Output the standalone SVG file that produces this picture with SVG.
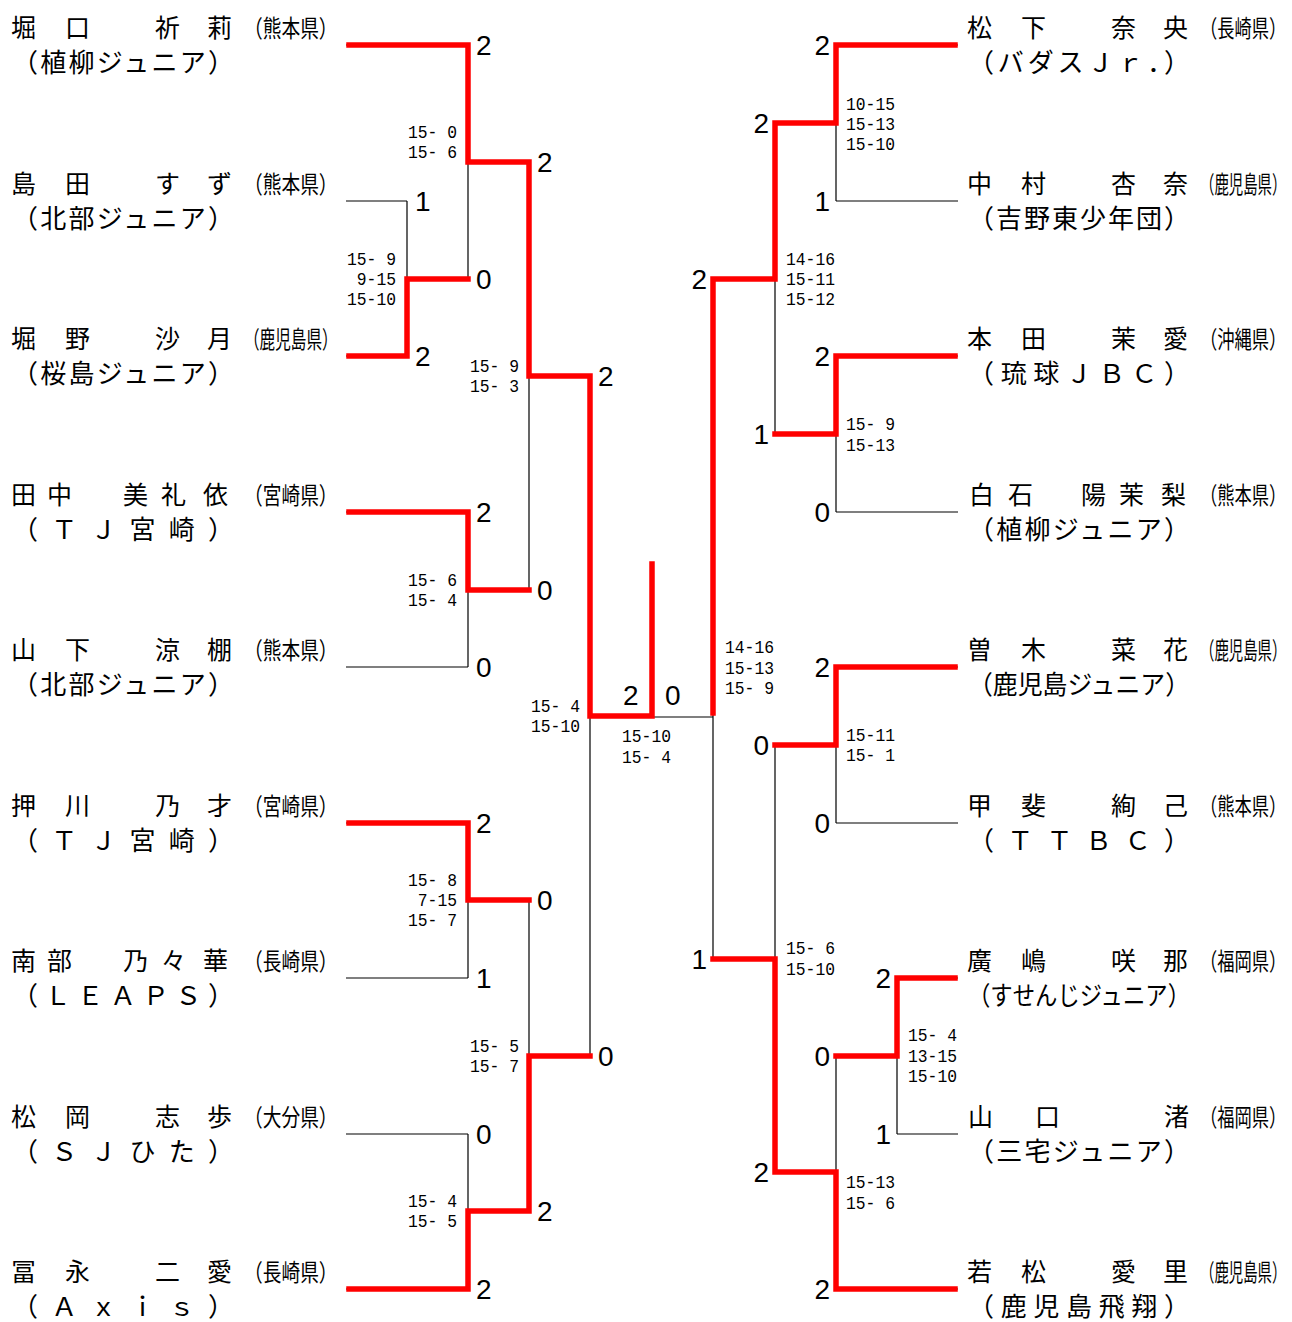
<svg xmlns="http://www.w3.org/2000/svg" width="1292" height="1322" viewBox="0 0 1292 1322">
<style>
.bk{fill:none;stroke:#000;stroke-width:1.2}
.rd{fill:none;stroke:#ff0000;stroke-width:5.5;stroke-linejoin:miter;stroke-linecap:square}
.nm{font-family:"Noto Sans CJK JP",sans-serif;font-size:25px;fill:#000}
.org{font-family:"Noto Sans CJK JP",sans-serif;font-size:26px;fill:#000}
.pf{font-family:"Noto Sans CJK JP",sans-serif;font-size:24px;fill:#000}
.d{font-family:"Liberation Sans",Arial,sans-serif;font-size:28px;fill:#000}
.de{font-family:"Liberation Sans",Arial,sans-serif;font-size:28px;fill:#000;text-anchor:end}
.sc{font-family:"Liberation Mono",monospace;font-size:18px;fill:#000;white-space:pre}
</style>
<rect width="1292" height="1322" fill="#fff"/>
<g id="connectors">
<path class="bk" d="M346,45H468M346,201H407M346,356H407M346,512H468M346,667H468M346,823H468M346,978H468M346,1134H468M346,1289H468
M407,201V356M468,45V279M468,512V667M468,823V978M468,1134V1289M529,162V590M529,900V1211M590,376V1056
M407,279H468M468,162H529M468,590H529M529,376H590M468,900H529M468,1211H529M529,1056H590M590,717H713
M836,45H958M836,201H958M836,356H958M836,512H958M836,667H958M836,823H958M897,978H958M897,1134H958M836,1289H958
M836,45V201M836,356V512M775,123V434M836,667V823M897,978V1134M836,1056V1289M775,745V1172M713,279V959
M775,123H836M775,434H836M713,279H775M775,745H836M836,1056H897M775,1172H836M713,959H775"/>
<path class="rd" d="M349,45H468V162H529V376H590V716H652V564"/>
<path class="rd" d="M349,356H407V279H468"/>
<path class="rd" d="M349,512H468V590H529"/>
<path class="rd" d="M349,823H468V900H529"/>
<path class="rd" d="M349,1289H468V1211H529V1056H590"/>
<path class="rd" d="M955,45H836V123H775V279H713V713"/>
<path class="rd" d="M955,356H836V434H775"/>
<path class="rd" d="M955,667H836V745H775"/>
<path class="rd" d="M955,978H897V1056H836"/>
<path class="rd" d="M955,1289H836V1172H775V959H713"/>
</g>
<g id="p-l1"><text class="nm" y="37"><tspan x="11">堀</tspan><tspan x="65">口</tspan><tspan x="155">祈</tspan><tspan x="207">莉</tspan></text><text class="pf" transform="translate(244,37) scale(0.78,1)">（熊本県）</text><text class="org" x="12" y="72" textLength="222" lengthAdjust="spacing">（植柳ジュニア）</text></g>
<g id="p-l2"><text class="nm" y="193"><tspan x="11">島</tspan><tspan x="65">田</tspan><tspan x="155">す</tspan><tspan x="207">ず</tspan></text><text class="pf" transform="translate(244,193) scale(0.78,1)">（熊本県）</text><text class="org" x="12" y="228" textLength="222" lengthAdjust="spacing">（北部ジュニア）</text></g>
<g id="p-l3"><text class="nm" y="348"><tspan x="11">堀</tspan><tspan x="65">野</tspan><tspan x="155">沙</tspan><tspan x="207">月</tspan></text><text class="pf" transform="translate(244,348) scale(0.65,1)">（鹿児島県）</text><text class="org" x="12" y="383" textLength="222" lengthAdjust="spacing">（桜島ジュニア）</text></g>
<g id="p-l4"><text class="nm" y="504"><tspan x="11">田</tspan><tspan x="47">中</tspan><tspan x="123">美</tspan><tspan x="161">礼</tspan><tspan x="203">依</tspan></text><text class="pf" transform="translate(244,504) scale(0.78,1)">（宮崎県）</text><text class="org" x="12" y="539" textLength="222" lengthAdjust="spacing">（ＴＪ宮崎）</text></g>
<g id="p-l5"><text class="nm" y="659"><tspan x="11">山</tspan><tspan x="65">下</tspan><tspan x="155">涼</tspan><tspan x="207">棚</tspan></text><text class="pf" transform="translate(244,659) scale(0.78,1)">（熊本県）</text><text class="org" x="12" y="694" textLength="222" lengthAdjust="spacing">（北部ジュニア）</text></g>
<g id="p-l6"><text class="nm" y="815"><tspan x="11">押</tspan><tspan x="65">川</tspan><tspan x="155">乃</tspan><tspan x="207">才</tspan></text><text class="pf" transform="translate(244,815) scale(0.78,1)">（宮崎県）</text><text class="org" x="12" y="850" textLength="222" lengthAdjust="spacing">（ＴＪ宮崎）</text></g>
<g id="p-l7"><text class="nm" y="970"><tspan x="11">南</tspan><tspan x="47">部</tspan><tspan x="123">乃</tspan><tspan x="161">々</tspan><tspan x="203">華</tspan></text><text class="pf" transform="translate(244,970) scale(0.78,1)">（長崎県）</text><text class="org" x="12" y="1005" textLength="222" lengthAdjust="spacing">（ＬＥＡＰＳ）</text></g>
<g id="p-l8"><text class="nm" y="1126"><tspan x="11">松</tspan><tspan x="65">岡</tspan><tspan x="155">志</tspan><tspan x="207">歩</tspan></text><text class="pf" transform="translate(244,1126) scale(0.78,1)">（大分県）</text><text class="org" x="12" y="1161" textLength="222" lengthAdjust="spacing">（ＳＪひた）</text></g>
<g id="p-l9"><text class="nm" y="1281"><tspan x="11">冨</tspan><tspan x="65">永</tspan><tspan x="155">二</tspan><tspan x="207">愛</tspan></text><text class="pf" transform="translate(244,1281) scale(0.78,1)">（長崎県）</text><text class="org" x="12" y="1316" textLength="222" lengthAdjust="spacing">（Ａｘｉｓ）</text></g>
<g id="p-r1"><text class="nm" y="37"><tspan x="967">松</tspan><tspan x="1021">下</tspan><tspan x="1111">奈</tspan><tspan x="1163">央</tspan></text><text class="pf" transform="translate(1200,37) scale(0.72,1)">（長崎県）</text><text class="org" x="968" y="72" textLength="222" lengthAdjust="spacing">（バダスＪｒ．）</text></g>
<g id="p-r2"><text class="nm" y="193"><tspan x="967">中</tspan><tspan x="1021">村</tspan><tspan x="1111">杏</tspan><tspan x="1163">奈</tspan></text><text class="pf" transform="translate(1200,193) scale(0.6,1)">（鹿児島県）</text><text class="org" x="968" y="228" textLength="222" lengthAdjust="spacing">（吉野東少年団）</text></g>
<g id="p-r3"><text class="nm" y="348"><tspan x="967">本</tspan><tspan x="1021">田</tspan><tspan x="1111">茉</tspan><tspan x="1163">愛</tspan></text><text class="pf" transform="translate(1200,348) scale(0.72,1)">（沖縄県）</text><text class="org" x="968" y="383" textLength="222" lengthAdjust="spacing">（琉球ＪＢＣ）</text></g>
<g id="p-r4"><text class="nm" y="504"><tspan x="969">白</tspan><tspan x="1008">石</tspan><tspan x="1081">陽</tspan><tspan x="1119">茉</tspan><tspan x="1161">梨</tspan></text><text class="pf" transform="translate(1200,504) scale(0.72,1)">（熊本県）</text><text class="org" x="968" y="539" textLength="222" lengthAdjust="spacing">（植柳ジュニア）</text></g>
<g id="p-r5"><text class="nm" y="659"><tspan x="967">曽</tspan><tspan x="1021">木</tspan><tspan x="1111">菜</tspan><tspan x="1163">花</tspan></text><text class="pf" transform="translate(1200,659) scale(0.6,1)">（鹿児島県）</text><text class="org" x="968" y="694" textLength="222" lengthAdjust="spacingAndGlyphs">（鹿児島ジュニア）</text></g>
<g id="p-r6"><text class="nm" y="815"><tspan x="967">甲</tspan><tspan x="1021">斐</tspan><tspan x="1111">絢</tspan><tspan x="1163">己</tspan></text><text class="pf" transform="translate(1200,815) scale(0.72,1)">（熊本県）</text><text class="org" x="968" y="850" textLength="222" lengthAdjust="spacing">（ＴＴＢＣ）</text></g>
<g id="p-r7"><text class="nm" y="970"><tspan x="967">廣</tspan><tspan x="1021">嶋</tspan><tspan x="1111">咲</tspan><tspan x="1163">那</tspan></text><text class="pf" transform="translate(1200,970) scale(0.72,1)">（福岡県）</text><text class="org" x="968" y="1005" textLength="222" lengthAdjust="spacingAndGlyphs">（すせんじジュニア）</text></g>
<g id="p-r8"><text class="nm" y="1126"><tspan x="968">山</tspan><tspan x="1035">口</tspan><tspan x="1164">渚</tspan></text><text class="pf" transform="translate(1200,1126) scale(0.72,1)">（福岡県）</text><text class="org" x="968" y="1161" textLength="222" lengthAdjust="spacing">（三宅ジュニア）</text></g>
<g id="p-r9"><text class="nm" y="1281"><tspan x="967">若</tspan><tspan x="1021">松</tspan><tspan x="1111">愛</tspan><tspan x="1163">里</tspan></text><text class="pf" transform="translate(1200,1281) scale(0.6,1)">（鹿児島県）</text><text class="org" x="968" y="1316" textLength="222" lengthAdjust="spacing">（鹿児島飛翔）</text></g>
<g id="games">
<text class="d" x="476" y="55">2</text>
<text class="d" x="415" y="211">1</text>
<text class="d" x="476" y="289">0</text>
<text class="d" x="415" y="366">2</text>
<text class="d" x="537" y="172">2</text>
<text class="d" x="598" y="386">2</text>
<text class="d" x="476" y="522">2</text>
<text class="d" x="476" y="677">0</text>
<text class="d" x="537" y="600">0</text>
<text class="d" x="476" y="833">2</text>
<text class="d" x="476" y="988">1</text>
<text class="d" x="537" y="910">0</text>
<text class="d" x="476" y="1144">0</text>
<text class="d" x="476" y="1299">2</text>
<text class="d" x="537" y="1221">2</text>
<text class="d" x="598" y="1066">0</text>
<text class="d" x="623" y="705">2</text>
<text class="d" x="665" y="705">0</text>
<text class="de" x="830" y="55">2</text>
<text class="de" x="830" y="211">1</text>
<text class="de" x="769" y="133">2</text>
<text class="de" x="830" y="366">2</text>
<text class="de" x="830" y="522">0</text>
<text class="de" x="769" y="444">1</text>
<text class="de" x="707" y="289">2</text>
<text class="de" x="830" y="677">2</text>
<text class="de" x="830" y="833">0</text>
<text class="de" x="769" y="755">0</text>
<text class="de" x="891" y="988">2</text>
<text class="de" x="891" y="1144">1</text>
<text class="de" x="830" y="1066">0</text>
<text class="de" x="769" y="1182">2</text>
<text class="de" x="830" y="1299">2</text>
<text class="de" x="707" y="969">1</text>
</g>
<g id="set-scores">
<text class="sc" x="408" y="138" textLength="49" lengthAdjust="spacingAndGlyphs">15-&#160;0</text>
<text class="sc" x="408" y="158" textLength="49" lengthAdjust="spacingAndGlyphs">15-&#160;6</text>
<text class="sc" x="347" y="265" textLength="49" lengthAdjust="spacingAndGlyphs">15-&#160;9</text>
<text class="sc" x="347" y="285" textLength="49" lengthAdjust="spacingAndGlyphs">&#160;9-15</text>
<text class="sc" x="347" y="305" textLength="49" lengthAdjust="spacingAndGlyphs">15-10</text>
<text class="sc" x="470" y="372" textLength="49" lengthAdjust="spacingAndGlyphs">15-&#160;9</text>
<text class="sc" x="470" y="392" textLength="49" lengthAdjust="spacingAndGlyphs">15-&#160;3</text>
<text class="sc" x="408" y="586" textLength="49" lengthAdjust="spacingAndGlyphs">15-&#160;6</text>
<text class="sc" x="408" y="606" textLength="49" lengthAdjust="spacingAndGlyphs">15-&#160;4</text>
<text class="sc" x="531" y="712" textLength="49" lengthAdjust="spacingAndGlyphs">15-&#160;4</text>
<text class="sc" x="531" y="732" textLength="49" lengthAdjust="spacingAndGlyphs">15-10</text>
<text class="sc" x="408" y="886" textLength="49" lengthAdjust="spacingAndGlyphs">15-&#160;8</text>
<text class="sc" x="408" y="906" textLength="49" lengthAdjust="spacingAndGlyphs">&#160;7-15</text>
<text class="sc" x="408" y="926" textLength="49" lengthAdjust="spacingAndGlyphs">15-&#160;7</text>
<text class="sc" x="470" y="1052" textLength="49" lengthAdjust="spacingAndGlyphs">15-&#160;5</text>
<text class="sc" x="470" y="1072" textLength="49" lengthAdjust="spacingAndGlyphs">15-&#160;7</text>
<text class="sc" x="408" y="1207" textLength="49" lengthAdjust="spacingAndGlyphs">15-&#160;4</text>
<text class="sc" x="408" y="1227" textLength="49" lengthAdjust="spacingAndGlyphs">15-&#160;5</text>
<text class="sc" x="622" y="742" textLength="49" lengthAdjust="spacingAndGlyphs">15-10</text>
<text class="sc" x="622" y="763" textLength="49" lengthAdjust="spacingAndGlyphs">15-&#160;4</text>
<text class="sc" x="846" y="110" textLength="49" lengthAdjust="spacingAndGlyphs">10-15</text>
<text class="sc" x="846" y="130" textLength="49" lengthAdjust="spacingAndGlyphs">15-13</text>
<text class="sc" x="846" y="150" textLength="49" lengthAdjust="spacingAndGlyphs">15-10</text>
<text class="sc" x="786" y="265" textLength="49" lengthAdjust="spacingAndGlyphs">14-16</text>
<text class="sc" x="786" y="285" textLength="49" lengthAdjust="spacingAndGlyphs">15-11</text>
<text class="sc" x="786" y="305" textLength="49" lengthAdjust="spacingAndGlyphs">15-12</text>
<text class="sc" x="846" y="430" textLength="49" lengthAdjust="spacingAndGlyphs">15-&#160;9</text>
<text class="sc" x="846" y="451" textLength="49" lengthAdjust="spacingAndGlyphs">15-13</text>
<text class="sc" x="725" y="653" textLength="49" lengthAdjust="spacingAndGlyphs">14-16</text>
<text class="sc" x="725" y="674" textLength="49" lengthAdjust="spacingAndGlyphs">15-13</text>
<text class="sc" x="725" y="694" textLength="49" lengthAdjust="spacingAndGlyphs">15-&#160;9</text>
<text class="sc" x="846" y="741" textLength="49" lengthAdjust="spacingAndGlyphs">15-11</text>
<text class="sc" x="846" y="761" textLength="49" lengthAdjust="spacingAndGlyphs">15-&#160;1</text>
<text class="sc" x="786" y="954" textLength="49" lengthAdjust="spacingAndGlyphs">15-&#160;6</text>
<text class="sc" x="786" y="975" textLength="49" lengthAdjust="spacingAndGlyphs">15-10</text>
<text class="sc" x="908" y="1041" textLength="49" lengthAdjust="spacingAndGlyphs">15-&#160;4</text>
<text class="sc" x="908" y="1062" textLength="49" lengthAdjust="spacingAndGlyphs">13-15</text>
<text class="sc" x="908" y="1082" textLength="49" lengthAdjust="spacingAndGlyphs">15-10</text>
<text class="sc" x="846" y="1188" textLength="49" lengthAdjust="spacingAndGlyphs">15-13</text>
<text class="sc" x="846" y="1209" textLength="49" lengthAdjust="spacingAndGlyphs">15-&#160;6</text>
</g>
</svg>
